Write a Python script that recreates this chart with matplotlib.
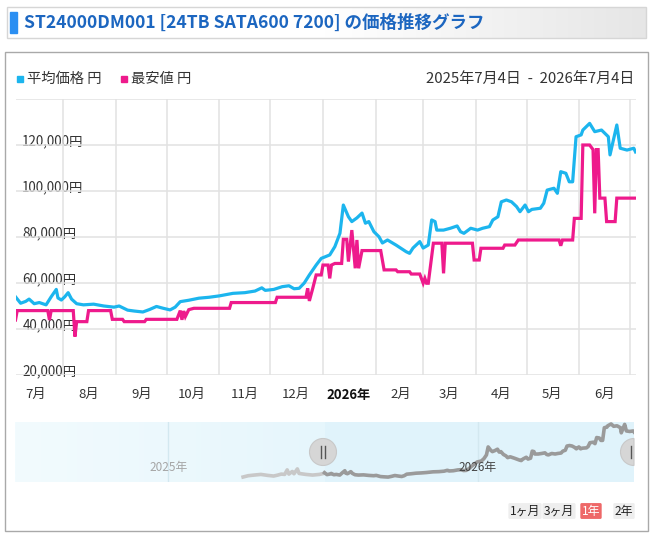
import matplotlib
matplotlib.use('Agg')
import matplotlib.pyplot as plt
import matplotlib.transforms as mtransforms
import matplotlib.dates as mdates
from matplotlib.patches import Rectangle, Ellipse, Wedge
import numpy as np
import pandas as pd

plt.rcParams['font.family'] = ['Noto Sans CJK JP', 'DejaVu Sans']

# average price (平均価格)
avg_dates = [
    "2025-07-04", "2025-07-07", "2025-07-10", "2025-07-12", "2025-07-15", "2025-07-18",
    "2025-07-22", "2025-07-25", "2025-07-28", "2025-07-29", "2025-07-31", "2025-08-02",
    "2025-08-04", "2025-08-06", "2025-08-09", "2025-08-13", "2025-08-19", "2025-08-25",
    "2025-08-31", "2025-09-03", "2025-09-08", "2025-09-12", "2025-09-17", "2025-09-21",
    "2025-09-25", "2025-09-29", "2025-10-03", "2025-10-06", "2025-10-09", "2025-10-14",
    "2025-10-20", "2025-10-26", "2025-11-01", "2025-11-09", "2025-11-16", "2025-11-22",
    "2025-11-26", "2025-11-28", "2025-12-03", "2025-12-08", "2025-12-12", "2025-12-15",
    "2025-12-18", "2025-12-21", "2025-12-24", "2025-12-28", "2025-12-31", "2026-01-05",
    "2026-01-08", "2026-01-11", "2026-01-13", "2026-01-16", "2026-01-18", "2026-01-21",
    "2026-01-24", "2026-01-26", "2026-01-28", "2026-01-31", "2026-02-03", "2026-02-05",
    "2026-02-08", "2026-02-13", "2026-02-19", "2026-02-21", "2026-02-23", "2026-02-27",
    "2026-03-01", "2026-03-04", "2026-03-06", "2026-03-08", "2026-03-09", "2026-03-13",
    "2026-03-17", "2026-03-21", "2026-03-23", "2026-03-25", "2026-03-29", "2026-04-02",
    "2026-04-05", "2026-04-09", "2026-04-11", "2026-04-14", "2026-04-16", "2026-04-19",
    "2026-04-22", "2026-04-25", "2026-04-27", "2026-04-30", "2026-05-02", "2026-05-04",
    "2026-05-09", "2026-05-11", "2026-05-13", "2026-05-17", "2026-05-19", "2026-05-21",
    "2026-05-24", "2026-05-26", "2026-05-28", "2026-05-30", "2026-06-02", "2026-06-03",
    "2026-06-07", "2026-06-10", "2026-06-14", "2026-06-18", "2026-06-19", "2026-06-21",
    "2026-06-23", "2026-06-25", "2026-06-29", "2026-07-03", "2026-07-04",
]
avg_prices = [
    54000, 51200, 52000, 53000, 51000, 51500,
    50500, 54000, 57200, 53500, 52600, 54000,
    55800, 53000, 51000, 50500, 50800, 50000,
    49500, 50000, 48200, 47800, 47400, 48500,
    49800, 49000, 48300, 49500, 51900, 52500,
    53400, 53800, 54400, 55500, 55800, 56500,
    57900, 56800, 57200, 58400, 58800, 57500,
    57700, 60000, 63500, 67800, 70700, 72200,
    75800, 81600, 93900, 88800, 86700, 88300,
    90400, 86000, 86700, 82300, 80100, 77400,
    78700, 76500, 73600, 72900, 75200, 78000,
    75200, 76500, 87400, 86700, 83000, 83000,
    83800, 84800, 82300, 81600, 83800, 83000,
    83800, 84500, 87400, 88800, 95300, 96100,
    95300, 93200, 91000, 93900, 91000, 92000,
    92500, 94700, 100400, 101200, 99000, 108400,
    107700, 104000, 104000, 123600, 124400, 126500,
    129400, 125800, 126500, 123600, 115700, 122200,
    128700, 118600, 117800, 118600, 117000,
]

# lowest price (最安値)
min_dates = [
    "2025-07-04", "2025-07-05", "2025-07-23", "2025-07-24", "2025-07-25", "2025-08-07",
    "2025-08-08", "2025-08-09", "2025-08-15", "2025-08-16", "2025-08-29", "2025-08-30",
    "2025-09-05", "2025-09-06", "2025-09-18", "2025-09-19", "2025-10-07", "2025-10-09",
    "2025-10-10", "2025-10-11", "2025-10-12", "2025-10-14", "2025-10-17", "2025-11-07",
    "2025-11-08", "2025-12-04", "2025-12-05", "2025-12-22", "2025-12-23", "2025-12-24",
    "2025-12-26", "2025-12-28", "2025-12-31", "2026-01-01", "2026-01-04", "2026-01-05",
    "2026-01-06", "2026-01-08", "2026-01-12", "2026-01-13", "2026-01-15", "2026-01-16",
    "2026-01-18", "2026-01-20", "2026-01-21", "2026-01-22", "2026-01-24", "2026-02-04",
    "2026-02-06", "2026-02-13", "2026-02-14", "2026-02-21", "2026-02-22", "2026-02-27",
    "2026-03-01", "2026-03-02", "2026-03-03", "2026-03-04", "2026-03-07", "2026-03-12",
    "2026-03-13", "2026-03-14", "2026-03-30", "2026-03-31", "2026-04-03", "2026-04-04",
    "2026-04-17", "2026-04-18", "2026-04-24", "2026-04-26", "2026-05-20", "2026-05-21",
    "2026-05-22", "2026-05-28", "2026-05-29", "2026-06-02", "2026-06-03", "2026-06-07",
    "2026-06-09", "2026-06-10", "2026-06-11", "2026-06-12", "2026-06-13", "2026-06-16",
    "2026-06-17", "2026-06-22", "2026-06-23", "2026-07-04",
]
min_prices = [
    43900, 48000, 48000, 43900, 48000, 48000,
    36700, 43200, 43200, 48000, 48000, 44200,
    44200, 43200, 43200, 44200, 44200, 48000,
    44000, 47800, 45400, 48400, 49000, 49000,
    51500, 51500, 53800, 53800, 57700, 52200,
    57700, 63500, 63500, 67800, 67800, 62000,
    67800, 68500, 68500, 79000, 79000, 69300,
    83000, 66400, 78700, 66400, 74100, 74100,
    65700, 65700, 64900, 64900, 63900, 63900,
    59900, 62000, 59900, 59900, 77300, 77300,
    64200, 77300, 77300, 70000, 70000, 75100,
    75100, 76500, 76500, 78700, 78700, 76200,
    78700, 78700, 88100, 88100, 120000, 120000,
    118000, 90300, 118000, 118000, 96900, 96900,
    86700, 86700, 96900, 96900,
]

# navigator history before the selected year
nav_pre_dates = [
    "2025-03-30", "2025-04-05", "2025-04-12", "2025-04-20", "2025-04-28", "2025-05-05",
    "2025-05-10", "2025-05-14", "2025-05-18", "2025-05-21", "2025-05-23", "2025-05-27",
    "2025-05-29", "2025-06-02", "2025-06-04", "2025-06-12", "2025-06-20", "2025-06-28",
    "2025-07-03", "2025-07-04",
]
nav_pre_prices = [
    47500, 49500, 50500, 51500, 50000, 49000,
    50500, 52000, 51500, 58500, 52000, 56000,
    52500, 60000, 53000, 51500, 50500, 51500,
    53000, 54000,
]

month_labels = ['7月', '8月', '9月', '10月', '11月', '12月', '2026年',
                '2月', '3月', '4月', '5月', '6月']
y_ticks = [20000, 40000, 60000, 80000, 100000, 120000, 140000]

BLUE = '#1cb5ee'
PINK = '#ee1a8c'

W, H = 653, 538
fig = plt.figure(figsize=(W / 100, H / 100), dpi=100)


def px_axes(x0, y0, x1, y1, **kw):
    return fig.add_axes([x0 / W, 1 - y1 / H, (x1 - x0) / W, (y1 - y0) / H], **kw)


# main chart
ax = px_axes(15.5, 99, 635.5, 375)
ax.set_facecolor('none')
for s in ax.spines.values():
    s.set_visible(False)
ax.set_xlim(pd.Timestamp('2025-07-04'), pd.Timestamp('2026-07-04'))
ax.set_ylim(20000, 140000)

month_starts = pd.date_range('2025-08-01', '2026-07-01', freq='MS')
month_mids = pd.date_range('2025-07-01', '2026-06-01', freq='MS') + pd.Timedelta(days=15)
ax.set_xticks(month_starts)
ax.set_xticklabels([])
ax.set_xticks(month_mids, minor=True)
ax.set_xticklabels(month_labels, minor=True, fontsize=9.5, color='#333333')
for lab in ax.get_xticklabels(minor=True):
    if lab.get_text() == '2026年':
        lab.set_fontweight('bold')
        lab.set_color('#111111')
ax.set_yticks(y_ticks)
ax.set_yticklabels([])
ax.tick_params(which='both', length=0, pad=9)
ax.grid(True, which='major', color='#e2e2e2', lw=1.1, zorder=0)

lab_tr = mtransforms.offset_copy(ax.get_yaxis_transform(), fig=fig, x=0, y=4, units='dots')
for v in y_ticks[:-1]:
    ax.text(0.011, v, f'{v:,}円', transform=lab_tr, ha='left', va='center',
            fontsize=9.7, color='#333333', zorder=1)

ax.plot(pd.to_datetime(avg_dates), avg_prices, color=BLUE, lw=2.3,
        solid_joinstyle='round', zorder=3)
ax.plot(pd.to_datetime(min_dates), min_prices, color=PINK, lw=2.3,
        solid_joinstyle='miter', zorder=4)

# navigator
nav = px_axes(15, 422, 634, 482)
nav.set_facecolor('#e0f3fb')
for s in nav.spines.values():
    s.set_visible(False)
nav.set_xticks([])
nav.set_yticks([])
x0n = mdates.date2num(pd.Timestamp('2024-07-04'))
x1n = mdates.date2num(pd.Timestamp('2025-07-04'))
grad = np.linspace(0, 1, 256).reshape(1, -1)
cmap = matplotlib.colors.LinearSegmentedColormap.from_list('g', ['#f2fbfe', '#e6f6fc'])
nav.imshow(grad, extent=(x0n, x1n, 39800, 132400), aspect='auto', cmap=cmap, zorder=0)
nav.set_xlim(pd.Timestamp('2024-07-04'), pd.Timestamp('2026-07-04'))
nav.set_ylim(39800, 132400)
for d in ['2025-01-01', '2026-01-01']:
    nav.axvline(pd.Timestamp(d), color='#d3e8f0', lw=1, zorder=1)
nav.text(pd.Timestamp('2025-01-01'), 0.25, '2025年', transform=nav.get_xaxis_transform(),
         ha='center', va='center', fontsize=8.5, color='#a5a5a5', zorder=2)
nav.plot(pd.to_datetime(nav_pre_dates), nav_pre_prices, color='#c8c8c8', lw=2.6, zorder=3)
nav.plot(pd.to_datetime(avg_dates), avg_prices, color='#9a9a9a', lw=2.6, zorder=3)
nav.text(pd.Timestamp('2026-01-01'), 0.25, '2026年', transform=nav.get_xaxis_transform(),
         ha='center', va='center', fontsize=8.5, color='#444444', zorder=4)

# overlay decorations in pixel coordinates
ov = fig.add_axes([0, 0, 1, 1], zorder=10)
ov.axis('off')
ov.patch.set_alpha(0)

tgrad = np.linspace(0, 1, 256).reshape(1, -1)
tcmap = matplotlib.colors.LinearSegmentedColormap.from_list('t', ['#ffffff', '#ffffff', '#e6e6e6'])
ov.imshow(tgrad, extent=(7, 646, 38, 7), aspect='auto', cmap=tcmap, zorder=0)
ov.set_xlim(0, W)
ov.set_ylim(H, 0)
ov.add_patch(Rectangle((7, 7), 639, 31, fill=False, ec='#d6d6d6', lw=1))
ov.add_patch(Rectangle((10, 12), 7, 21, color='#2b8ff2'))
ov.text(24, 22.5, 'ST24000DM001 [24TB SATA600 7200] の価格推移グラフ', ha='left', va='center',
        fontsize=12.6, fontweight='bold', color='#1c66c0')

ov.add_patch(Rectangle((5, 52), 643, 479, fill=False, ec='#a9a9a9', lw=1))

ov.add_patch(Rectangle((17, 76), 6, 6, color=BLUE))
ov.text(27, 79, '平均価格 円', ha='left', va='center', fontsize=10.3, color='#333333')
ov.add_patch(Rectangle((121, 76), 6, 6, color=PINK))
ov.text(131, 79, '最安値 円', ha='left', va='center', fontsize=10.3, color='#333333')
ov.text(634, 79, '2025年7月4日  -  2026年7月4日', ha='right', va='center',
        fontsize=10.8, color='#333333')

# navigator handles
ov.add_patch(Ellipse((323, 452), 27, 27, fc='#d6d6d6', ec='#c8c8c8', lw=0.8))
ov.plot([321, 321], [446, 458], color='#555555', lw=1)
ov.plot([325, 325], [446, 458], color='#555555', lw=1)
ov.add_patch(Wedge((634, 452), 13.5, 90, 270, fc='#d6d6d6', ec='#c8c8c8', lw=0.8))
ov.plot([631, 631], [446, 458], color='#555555', lw=1)

# range buttons
for label, x, fc, tc in [('1ヶ月', 525, '#eeeeee', '#222222'),
                         ('3ヶ月', 559, '#eeeeee', '#222222'),
                         ('1年', 591, '#ee6868', '#ffffff'),
                         ('2年', 624, '#eeeeee', '#222222')]:
    ov.text(x, 511, label, ha='center', va='center', fontsize=8.6, color=tc,
            bbox=dict(boxstyle='round,pad=0.12', fc=fc, ec='none'))

fig.savefig('out.png', dpi=100, facecolor='white')
